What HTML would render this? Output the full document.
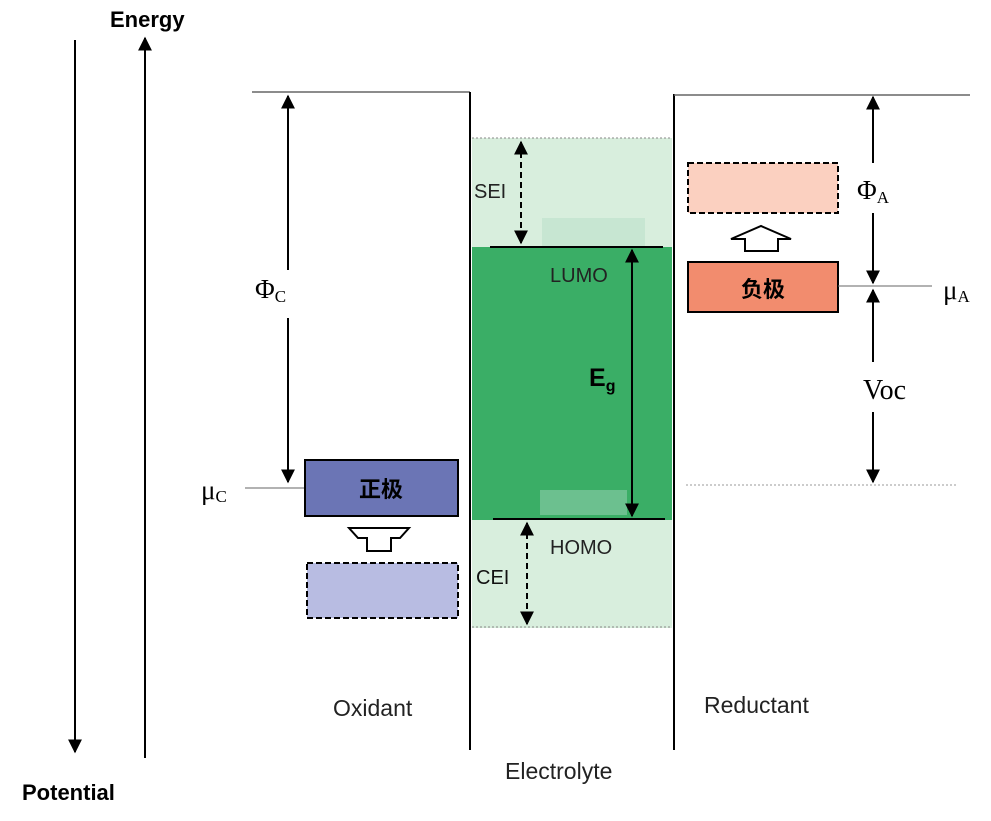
<!DOCTYPE html>
<html><head><meta charset="utf-8"><style>body{margin:0;background:#fff}svg{display:block}</style></head><body>
<svg width="991" height="821" viewBox="0 0 991 821" xmlns="http://www.w3.org/2000/svg" font-family="Liberation Sans, sans-serif">
<defs>
<marker id="a" viewBox="0 0 10 10" refX="9" refY="5" markerWidth="7" markerHeight="7" orient="auto-start-reverse"><path d="M0,0L10,5L0,10z" fill="#000"/></marker>
</defs>
<line x1="75" y1="40" x2="75" y2="752" stroke="#000" stroke-width="2" marker-end="url(#a)"/>
<line x1="145" y1="758" x2="145" y2="38" stroke="#000" stroke-width="2" marker-end="url(#a)"/>
<text x="110" y="27" font-size="22" font-weight="bold">Energy</text>
<text x="22" y="800" font-size="22" font-weight="bold">Potential</text>
<rect x="472" y="138" width="200" height="490" fill="#d8eedd"/>
<rect x="472" y="247" width="200" height="273" fill="#3aae66"/>
<rect x="542" y="218" width="103" height="29" fill="#c7e6d2"/>
<rect x="540" y="490" width="87" height="25" fill="#6cc08f"/>
<line x1="472" y1="138" x2="672" y2="138" stroke="#888" stroke-dasharray="2,2"/>
<line x1="472" y1="627" x2="672" y2="627" stroke="#888" stroke-dasharray="2,2"/>
<line x1="490" y1="247" x2="663" y2="247" stroke="#000" stroke-width="2"/>
<line x1="493" y1="519" x2="665" y2="519" stroke="#000" stroke-width="2"/>
<line x1="632" y1="250" x2="632" y2="516" stroke="#000" stroke-width="2" marker-start="url(#a)" marker-end="url(#a)"/>
<line x1="521" y1="142" x2="521" y2="243" stroke="#000" stroke-width="2" stroke-dasharray="6,4" marker-start="url(#a)" marker-end="url(#a)"/>
<line x1="527" y1="523" x2="527" y2="624" stroke="#000" stroke-width="2" stroke-dasharray="6,4" marker-start="url(#a)" marker-end="url(#a)"/>
<text x="474" y="198" font-size="20" fill="#222">SEI</text>
<text x="550" y="282" font-size="20" fill="#222">LUMO</text>
<text x="550" y="554" font-size="20" fill="#222">HOMO</text>
<text x="476" y="584" font-size="20" fill="#111">CEI</text>
<text x="589" y="386" font-size="25" font-weight="bold">E<tspan font-size="16" dy="5">g</tspan></text>
<line x1="252" y1="92" x2="470" y2="92" stroke="#666" stroke-width="1.5"/>
<line x1="470" y1="92" x2="470" y2="750" stroke="#000" stroke-width="2"/>
<line x1="674" y1="94" x2="674" y2="750" stroke="#000" stroke-width="2"/>
<line x1="674" y1="95" x2="970" y2="95" stroke="#666" stroke-width="1.5"/>
<line x1="288" y1="270" x2="288" y2="96" stroke="#000" stroke-width="2" marker-end="url(#a)"/>
<line x1="288" y1="318" x2="288" y2="482" stroke="#000" stroke-width="2" marker-end="url(#a)"/>
<text x="255" y="298" font-size="27" font-family="Liberation Serif, serif">Φ<tspan font-size="17" dy="4">C</tspan></text>
<line x1="245" y1="488" x2="305" y2="488" stroke="#666"/>
<text x="201" y="499" font-size="27" font-family="Liberation Serif, serif">μ<tspan font-size="17" dy="3">C</tspan></text>
<rect x="305" y="460" width="153" height="56" fill="#6b75b5" stroke="#000" stroke-width="2"/>
<text x="381" y="497" font-size="22" font-weight="bold" text-anchor="middle" font-family="Liberation Sans, Noto Sans CJK SC, sans-serif">正极</text>
<path d="M349,528H409L400,538H391V551H367V538H358Z" fill="#fff" stroke="#000" stroke-width="2"/>
<rect x="307" y="563" width="151" height="55" fill="#b8bce2" stroke="#000" stroke-width="2" stroke-dasharray="6,3"/>
<text x="333" y="716" font-size="23" fill="#222">Oxidant</text>
<text x="505" y="779" font-size="23" fill="#222">Electrolyte</text>
<text x="704" y="713" font-size="23" fill="#222">Reductant</text>
<rect x="688" y="163" width="150" height="50" fill="#fbd0c0" stroke="#000" stroke-width="2" stroke-dasharray="6,3"/>
<path d="M731,239L761,226L791,239H778V251H745V239Z" fill="#fff" stroke="#000" stroke-width="2"/>
<rect x="688" y="262" width="150" height="50" fill="#f28c6e" stroke="#000" stroke-width="2"/>
<text x="763" y="297" font-size="22" font-weight="bold" text-anchor="middle" font-family="Liberation Sans, Noto Sans CJK SC, sans-serif">负极</text>
<line x1="838" y1="286" x2="932" y2="286" stroke="#666"/>
<text x="943" y="299" font-size="27" font-family="Liberation Serif, serif">μ<tspan font-size="17" dy="3">A</tspan></text>
<line x1="873" y1="163" x2="873" y2="97" stroke="#000" stroke-width="2" marker-end="url(#a)"/>
<line x1="873" y1="213" x2="873" y2="283" stroke="#000" stroke-width="2" marker-end="url(#a)"/>
<text x="857" y="199" font-size="27" font-family="Liberation Serif, serif">Φ<tspan font-size="17" dy="4">A</tspan></text>
<line x1="873" y1="362" x2="873" y2="290" stroke="#000" stroke-width="2" marker-end="url(#a)"/>
<line x1="873" y1="412" x2="873" y2="482" stroke="#000" stroke-width="2" marker-end="url(#a)"/>
<text x="863" y="399" font-size="28" font-family="Liberation Serif, serif">Voc</text>
<line x1="686" y1="485" x2="957" y2="485" stroke="#999" stroke-dasharray="2,2"/>
</svg>
</body></html>
